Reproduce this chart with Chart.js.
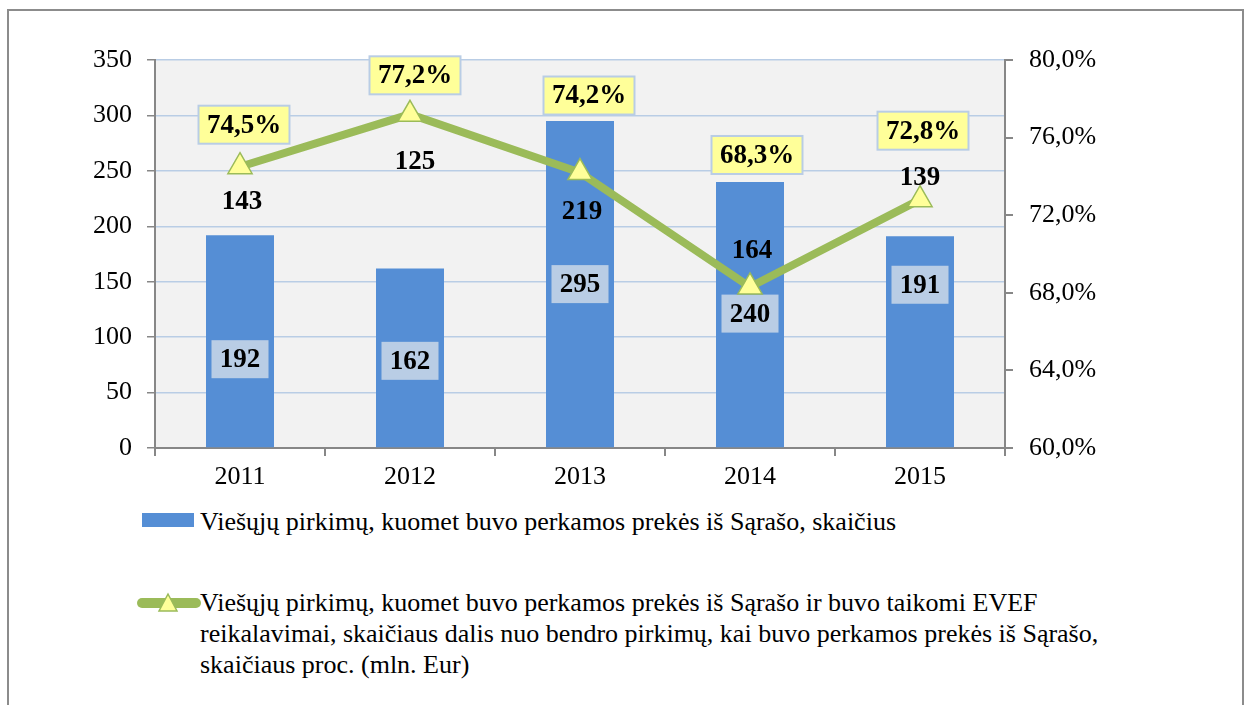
<!DOCTYPE html>
<html lang="lt">
<head>
<meta charset="utf-8">
<script src="https://cdn.jsdelivr.net/npm/chart.js@4"></script>
<style>
    body {
        margin: 0;
        background: #fff;
        width: 1250px;
        height: 705px;
        overflow: hidden;
        position: relative;
        font-family: "Liberation Serif", "Times New Roman", serif;
    }
    #remelis {
        position: absolute;
        left: 7px;
        top: 9px;
        width: 1237px;
        height: 720px;
        border: 2px solid #8c8c8c;
        box-sizing: border-box;
    }
    #grafikoDeze {
        position: absolute;
        left: 0;
        top: 0;
        width: 1250px;
        height: 500px;
    }
    .legendosTekstas {
        position: absolute;
        left: 200px;
        font-family: "Liberation Serif", "Times New Roman", serif;
        font-size: 26px;
        line-height: 31px;
        color: #000;
        white-space: nowrap;
    }
    #zenklasStulp {
        position: absolute;
        left: 142px;
        top: 513px;
        width: 52px;
        height: 14px;
        background: #558ed5;
    }
    #zenklasLinija {
        position: absolute;
        left: 136px;
        top: 592px;
    }
</style>
</head>
<body>
<div id="remelis"></div>
<div id="grafikoDeze"><canvas id="grafikas"></canvas></div>

<div id="zenklasStulp"></div>
<div class="legendosTekstas" style="top: 506px;">Viešųjų pirkimų, kuomet buvo perkamos prekės iš Sąrašo, skaičius</div>

<svg id="zenklasLinija" width="66" height="24">
    <line x1="6" y1="11" x2="60" y2="11" stroke="#9bbb59" stroke-width="10" stroke-linecap="round"></line>
    <polygon points="32,2 41,19 23,19" fill="#ffff99" stroke="#9bbb59" stroke-width="1.5"></polygon>
</svg>
<div class="legendosTekstas" style="top: 587px;">Viešųjų pirkimų, kuomet buvo perkamos prekės iš Sąrašo ir buvo taikomi EVEF<br>reikalavimai, skaičiaus dalis nuo bendro pirkimų, kai buvo perkamos prekės iš Sąrašo,<br>skaičiaus proc. (mln. Eur)</div>

<script>
const metai = ["2011", "2012", "2013", "2014", "2015"];
const pirkimuSkaicius = [192, 162, 295, 240, 191];
const evefDalis = [74.5, 77.2, 74.2, 68.3, 72.8];
const evefSkaicius = [143, 125, 219, 164, 139];

const serifas = "'Liberation Serif', 'Times New Roman', serif";

// rankiniu budu perkeltu zymu poslinkiai (kaip originale)
const stulpZymuPoslinkis = [18, 3, 0, -1, -57];
const procZymuPoslinkis = [[4, -42], [5, -39], [9, -77], [7, -132], [3, -69]];
const skaicZymuPoslinkis = [[2, 35], [5, 48], [2, 40], [2, -36], [0, -22]];

function deze(ctx, cx, cy, w, h, fonas, krastas) {
    ctx.fillStyle = fonas;
    ctx.fillRect(cx - w / 2, cy - h / 2, w, h);
    if (krastas) {
        ctx.strokeStyle = krastas;
        ctx.lineWidth = 2;
        ctx.strokeRect(cx - w / 2, cy - h / 2, w, h);
    }
}

const zymuPlugin = {
    id: "zymos",
    beforeDraw(chart) {
        const a = chart.chartArea;
        chart.ctx.save();
        chart.ctx.fillStyle = "#f2f2f2";
        chart.ctx.fillRect(a.left, a.top, a.right - a.left, a.bottom - a.top);
        chart.ctx.restore();
    },
    afterDatasetDraw(chart, args) {
        if (args.index !== 0) return;
        const ctx = chart.ctx;
        ctx.save();
        ctx.font = "bold 27px " + serifas;
        ctx.textAlign = "center";
        ctx.textBaseline = "middle";
        args.meta.data.forEach((bar, i) => {
            const cy = (bar.y + bar.base) / 2 + stulpZymuPoslinkis[i];
            deze(ctx, bar.x, cy, 57, 38, "#b9cde5", null);
            ctx.fillStyle = "#000";
            ctx.fillText(String(pirkimuSkaicius[i]), bar.x, cy + 1);
        });
        ctx.restore();
    },
    afterDatasetsDraw(chart) {
        const ctx = chart.ctx;
        const taskai = chart.getDatasetMeta(1).data;
        ctx.save();
        ctx.font = "bold 27px " + serifas;
        ctx.textAlign = "center";
        ctx.textBaseline = "middle";
        taskai.forEach((pt, i) => {
            const px = pt.x + procZymuPoslinkis[i][0];
            const py = pt.y + procZymuPoslinkis[i][1];
            deze(ctx, px, py, 91, 38, "#ffff99", "#b9cde5");
            ctx.fillStyle = "#000";
            ctx.fillText(evefDalis[i].toFixed(1).replace(".", ",") + "%", px, py + 1);

            ctx.fillText(String(evefSkaicius[i]), pt.x + skaicZymuPoslinkis[i][0], pt.y + skaicZymuPoslinkis[i][1]);
        });
        ctx.restore();
    },
};

const dataGrafiko = {
    labels: metai,
    datasets: [
        {
            type: "bar",
            label: "Viešųjų pirkimų, kuomet buvo perkamos prekės iš Sąrašo, skaičius",
            data: pirkimuSkaicius,
            backgroundColor: "#558ed5",
            yAxisID: "y",
            categoryPercentage: 1,
            barPercentage: 0.4,
            order: 2,
        },
        {
            type: "line",
            label: "EVEF dalis",
            data: evefDalis,
            borderColor: "#9bbb59",
            borderWidth: 8,
            tension: 0,
            pointStyle: "triangle",
            pointRadius: 14,
            pointBackgroundColor: "#ffff99",
            pointBorderColor: "#9bbb59",
            pointBorderWidth: 1.5,
            yAxisID: "y2",
            order: 1,
        },
    ],
};

const configGrafiko = {
    data: dataGrafiko,
    plugins: [zymuPlugin],
    options: {
        responsive: true,
        maintainAspectRatio: false,
        animation: false,
        layout: {
            padding: { top: 60, left: 0, right: 0, bottom: 0 },
        },
        plugins: {
            legend: { display: false },
            tooltip: { enabled: false },
        },
        scales: {
            x: {
                offset: true,
                grid: {
                    offset: true,
                    drawOnChartArea: false,
                    drawTicks: true,
                    tickLength: 8,
                    tickColor: "#878787",
                    lineWidth: 2,
                },
                border: { color: "#878787", width: 2 },
                ticks: {
                    color: "#000",
                    padding: 6,
                    font: { family: serifas, size: 26 },
                },
                afterFit(scale) {
                    scale.height = 52;
                },
            },
            y: {
                position: "left",
                min: 0,
                max: 350,
                ticks: {
                    stepSize: 50,
                    color: "#000",
                    padding: 15,
                    font: { family: serifas, size: 26 },
                },
                grid: {
                    color: "#b9cde5",
                    lineWidth: 1.5,
                    tickColor: "#878787",
                    tickLength: 8,
                },
                border: { color: "#878787", width: 2 },
                afterFit(scale) {
                    scale.width = 155;
                },
            },
            y2: {
                position: "right",
                min: 60,
                max: 80,
                ticks: {
                    stepSize: 4,
                    color: "#000",
                    padding: 16,
                    font: { family: serifas, size: 26 },
                    callback: (v) => v.toFixed(1).replace(".", ",") + "%",
                },
                grid: {
                    drawOnChartArea: false,
                    tickColor: "#878787",
                    tickLength: 8,
                    lineWidth: 2,
                },
                border: { color: "#878787", width: 2 },
                afterFit(scale) {
                    scale.width = 245;
                },
            },
        },
    },
};

const grafikas = new Chart(document.getElementById("grafikas"), configGrafiko);
</script>
</body>
</html>
